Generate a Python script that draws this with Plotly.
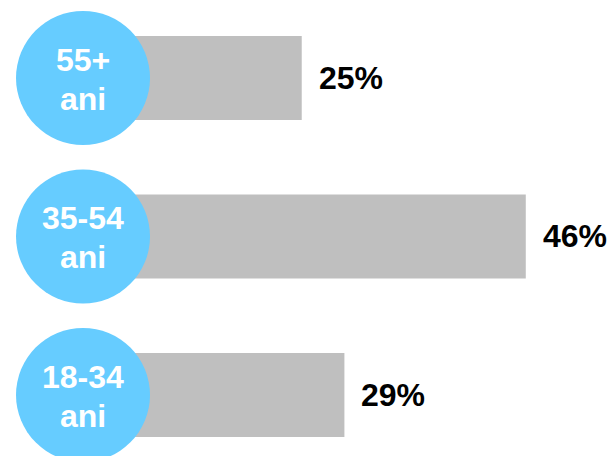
import plotly.graph_objects as go

# data, bottom to top
age_groups = ["18-34", "35-54", "55+"]
unit = "ani"
shares = [29, 46, 25]
share_labels = ["29%", "46%", "25%"]
y_pos = [0, 1, 2]

FONT = "Liberation Sans, Arial"

fig = go.Figure()

fig.add_trace(go.Bar(
    x=shares,
    y=y_pos,
    orientation="h",
    width=0.53,
    marker=dict(color="#BFBFBF", line=dict(width=0)),
    hoverinfo="skip",
))

# circles
fig.add_trace(go.Scatter(
    x=[4.5] * len(y_pos),
    y=y_pos,
    mode="markers",
    marker=dict(size=134, color="#66CCFF", line=dict(width=0)),
    cliponaxis=False,
    hoverinfo="skip",
))

for g, y in zip(age_groups, y_pos):
    fig.add_annotation(x=4.5, y=y, text="<b>%s</b>" % g, showarrow=False,
                       xanchor="center", yanchor="middle", yshift=18,
                       font=dict(family=FONT, size=32, color="white"))
    fig.add_annotation(x=4.5, y=y, text="<b>%s</b>" % unit, showarrow=False,
                       xanchor="center", yanchor="middle", yshift=-21,
                       font=dict(family=FONT, size=32, color="white"))

for v, lab, y in zip(shares, share_labels, y_pos):
    fig.add_annotation(
        x=v, y=y, text="<b>%s</b>" % lab,
        xanchor="left", yanchor="middle", xshift=15,
        showarrow=False,
        font=dict(family=FONT, size=32, color="black"),
    )

fig.update_layout(
    width=609, height=456, autosize=False,
    margin=dict(l=0, r=0, t=0, b=0),
    paper_bgcolor="white", plot_bgcolor="white",
    showlegend=False,
    xaxis=dict(range=[-3.28, 53.8], visible=False, fixedrange=True),
    yaxis=dict(range=[-0.385, 2.492], visible=False, fixedrange=True),
)

# drop the default body margin so the figure fills the window
fig.write_html("out.html",
               config={"displayModeBar": False},
               post_script="document.body.style.margin='0';document.body.style.overflow='hidden';")
